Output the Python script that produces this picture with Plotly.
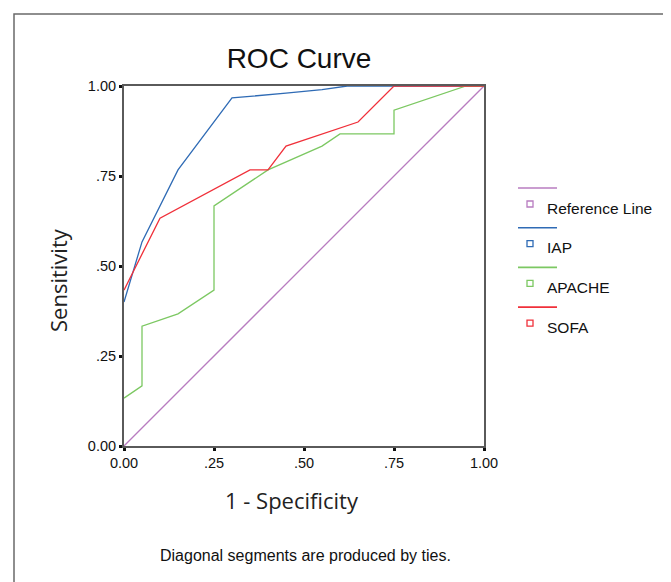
import plotly.graph_objects as go

# ---- data ----
ref_x = [0.0, 1.0]
ref_y = [0.0, 1.0]

iap_x = [0.00, 0.05, 0.15, 0.30, 0.45, 0.55, 0.62, 1.00]
iap_y = [0.400, 0.567, 0.767, 0.967, 0.980, 0.990, 1.000, 1.000]

apache_x = [0.00, 0.05, 0.05, 0.15, 0.25, 0.25, 0.40, 0.55, 0.60, 0.75, 0.75, 0.95, 1.00]
apache_y = [0.133, 0.167, 0.333, 0.367, 0.433, 0.667, 0.767, 0.833, 0.867, 0.867, 0.933, 1.000, 1.000]

sofa_x = [0.00, 0.10, 0.35, 0.40, 0.45, 0.65, 0.75, 1.00]
sofa_y = [0.433, 0.633, 0.767, 0.767, 0.833, 0.900, 1.000, 1.000]

series_names = ["Reference Line", "IAP", "APACHE", "SOFA"]
series_colors = ["#b87cc0", "#2f6bb5", "#7cc862", "#f0303a"]
series_x = [ref_x, iap_x, apache_x, sofa_x]
series_y = [ref_y, iap_y, apache_y, sofa_y]

tick_vals = [0, 0.25, 0.5, 0.75, 1.0]
tick_text = ["0.00", ".25", ".50", ".75", "1.00"]

# ---- layout geometry (pixels, in screenshot coordinates) ----
OFF = 8  # page body margin
W, H = 671 - OFF, 582 - OFF
L, R, T, B = 124, 484, 86, 446
PW, PH = R - L, B - T


def px(x):
    return (x - L) / PW


def py(y):
    return (B - y) / PH


fig = go.Figure()
for name, col, xs, ys in zip(series_names, series_colors, series_x, series_y):
    fig.add_trace(go.Scatter(x=xs, y=ys, mode="lines", name=name,
                             line=dict(color=col, width=1.3), showlegend=False))

tickfont = dict(family="Liberation Sans, Arial", size=14.5, color="#111")
axis_common = dict(range=[0, 1], tickvals=tick_vals, ticktext=tick_text,
                   showgrid=False, zeroline=False, showline=True, mirror=True,
                   linecolor="#5a5a5a", linewidth=2, ticks="outside",
                   ticklen=3, tickwidth=3, tickcolor="#111", tickfont=tickfont,
                   layer="below traces", fixedrange=True)

fig.update_layout(
    width=W, height=H, autosize=False,
    margin=dict(l=L - OFF, r=W + OFF - R, t=T - OFF, b=H + OFF - B, pad=0),
    paper_bgcolor="white", plot_bgcolor="white",
    xaxis=dict(**axis_common),
    yaxis=dict(**axis_common),
    title=dict(text="ROC Curve", x=px(299), xref="paper", xanchor="center",
               y=1 - (58 - OFF) / H, yref="container", yanchor="middle",
               font=dict(family="Liberation Sans, Arial", size=28, color="#111")),
)

shapes = []
annotations = []

# outer frame
shapes.append(dict(type="rect", xref="paper", yref="paper",
                   x0=px(14), x1=px(700), y0=py(620), y1=py(14),
                   line=dict(color="#6a6a6a", width=1.5), fillcolor="rgba(0,0,0,0)",
                   layer="below"))

# axis titles and footnote
annotations.append(dict(text="Sensitivity", xref="paper", yref="paper",
                        x=px(58), y=py(280), showarrow=False, textangle=-90,
                        xanchor="center", yanchor="middle",
                        font=dict(family="Open Sans", size=22, color="#222")))
annotations.append(dict(text="1 - Specificity", xref="paper", yref="paper",
                        x=px(292), y=py(500), showarrow=False,
                        xanchor="center", yanchor="middle",
                        font=dict(family="Open Sans", size=22, color="#222")))
annotations.append(dict(text="Diagonal segments are produced by ties.", xref="paper", yref="paper",
                        x=px(305), y=py(555), showarrow=False,
                        xanchor="center", yanchor="middle",
                        font=dict(family="Liberation Sans, Arial", size=16, color="#111")))

# custom SPSS-style legend
step = 39.7
for i, (name, col) in enumerate(zip(series_names, series_colors)):
    ly = 188 + i * step
    shapes.append(dict(type="line", xref="paper", yref="paper",
                       x0=px(518), x1=px(557), y0=py(ly), y1=py(ly),
                       line=dict(color=col, width=1.6)))
    sy = ly + 16
    shapes.append(dict(type="rect", xref="paper", yref="paper",
                       x0=px(527), x1=px(533), y0=py(sy + 3), y1=py(sy - 3),
                       line=dict(color=col, width=1.3), fillcolor="white"))
    annotations.append(dict(text=name, xref="paper", yref="paper",
                            x=px(545), y=py(ly + 20), showarrow=False,
                            xanchor="left", yanchor="middle",
                            font=dict(family="Liberation Sans, Arial", size=15.5, color="#111")))

fig.update_layout(shapes=shapes, annotations=annotations)
fig.write_html("out.html")
